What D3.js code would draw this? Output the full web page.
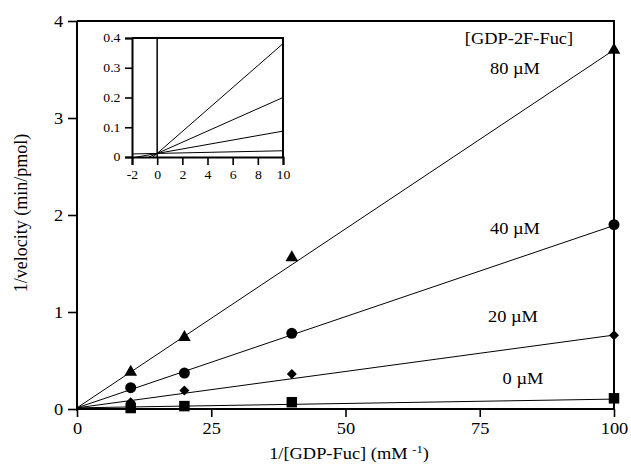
<!DOCTYPE html>
<html><head><meta charset="utf-8">
<script src="https://cdn.jsdelivr.net/npm/d3@7"></script>
<style>
body{margin:0;background:#fff}
text{font-family:"Liberation Serif","Times New Roman",serif;fill:#000}
</style></head>
<body><svg id="c" width="631" height="472"></svg>
<script>
// ---- data ----
const seriesLabels = ["80 µM","40 µM","20 µM","0 µM"];
const xValues = [10, 20, 40, 100];
const v80 = [0.38, 0.74, 1.56, 3.70];
const v40 = [0.22, 0.37, 0.78, 1.90];
const v20 = [0.07, 0.19, 0.36, 0.76];
const v0  = [0.01, 0.03, 0.07, 0.11];
const fitIntercepts = [0.012, 0.012, 0.012, 0.012];
const fitSlopes = [0.0369, 0.0188, 0.0075, 0.0009];
const markerTypes = ["triangle","circle","diamond","square"];
const xTicks = [0, 25, 50, 75, 100];
const yTicks = [0, 1, 2, 3, 4];
const insetXTicks = [-2, 0, 2, 4, 6, 8, 10];
const insetYTicks = [0, 0.1, 0.2, 0.3, 0.4];
const legendTitle = "[GDP-2F-Fuc]";
const xTitle = "1/[GDP-Fuc] (mM";
const yTitle = "1/velocity (min/pmol)";

const values = [v80, v40, v20, v0];
const SX = 1.15;

const svg = d3.select("#c");
const x = d3.scaleLinear([0, 100], [77, 614]);
const y = d3.scaleLinear([0, 4], [409, 21]);

function txt(g, px, py, s, size, anchor, sx) {
  return g.append("text").attr("transform", `translate(${px},${py}) scale(${sx||SX},1)`)
    .attr("font-size", size).attr("text-anchor", anchor || "middle").text(s);
}

// frame
svg.append("path").attr("d", `M${x(0)},${y(4)}H${x(100)}V${y(0)}`)
  .attr("fill","none").attr("stroke","#000").attr("stroke-width",2);

// axes
const gx = svg.append("g").attr("transform", `translate(0,${y(0)})`)
  .call(d3.axisBottom(x).tickValues(xTicks).tickSize(8).tickPadding(6).tickFormat(d => String(d)));
const gy = svg.append("g").attr("transform", `translate(${x(0)},0)`)
  .call(d3.axisLeft(y).tickValues(yTicks).tickSize(9).tickPadding(3).tickFormat(d => String(d)));
[gx, gy].forEach(g => {
  g.select(".domain").attr("stroke-width", 2).attr("d", g === gx ? `M${x(0)},0H${x(100)}` : `M0,${y(4)}V${y(0)+2}`);
  g.selectAll(".tick line").attr("stroke-width", 1.6);
  g.selectAll(".tick text").attr("font-size", 16).attr("font-family", '"Liberation Serif",serif')
    .attr("transform", `scale(${SX},1)`);
});

// fit lines
values.forEach((vals, i) => {
  svg.append("line")
    .attr("x1", x(0)).attr("y1", y(fitIntercepts[i]))
    .attr("x2", x(100)).attr("y2", y(fitIntercepts[i] + fitSlopes[i] * 100))
    .attr("stroke", "#000").attr("stroke-width", 1);
});

// markers
const symMap = {triangle: [d3.symbolTriangle, 70, 0], circle: [d3.symbolCircle, 95, 0], diamond: [d3.symbolSquare, 50, 45], square: [d3.symbolSquare, 110, 0]};
values.forEach((vals, i) => {
  const [t, s, r] = symMap[markerTypes[i]];
  svg.append("g").selectAll("path").data(vals).join("path")
    .attr("transform", (d, j) => `translate(${x(xValues[j])},${y(d)}) rotate(${r})`)
    .attr("d", d3.symbol(t, s)).attr("fill", "#000");
});

// series labels
const labelPos = [[515, 74], [515, 234], [513, 322], [523, 384]];
txt(svg, 519, 44, legendTitle, 16);
seriesLabels.forEach((l, i) => txt(svg, labelPos[i][0], labelPos[i][1], l, 16));

// titles
const xt = svg.append("text").attr("transform", `translate(349,459) scale(${SX},1)`)
  .attr("font-size", 16).attr("text-anchor", "middle");
xt.append("tspan").text(xTitle + " ");
xt.append("tspan").attr("font-size", 11).attr("dy", -6).text("-1");
xt.append("tspan").attr("dy", 6).text(")");
svg.append("text").attr("transform", "translate(27,213) rotate(-90)")
  .attr("font-size", 18).attr("text-anchor", "middle").text(yTitle);

// ---- inset ----
const xi = d3.scaleLinear([-2, 10], [132, 283]);
const yi = d3.scaleLinear([0, 0.4], [157, 38]);
const inset = svg.append("g");
svg.append("clipPath").attr("id", "ic").append("rect")
  .attr("x", xi(-2)).attr("y", yi(0.4)).attr("width", xi(10) - xi(-2)).attr("height", yi(0) - yi(0.4));
inset.append("g").attr("clip-path", "url(#ic)").selectAll("line").data(fitSlopes).join("line")
  .attr("x1", xi(-2)).attr("y1", (d, i) => yi(fitIntercepts[i] + d * -2))
  .attr("x2", xi(10)).attr("y2", (d, i) => yi(fitIntercepts[i] + d * 10))
  .attr("stroke", "#000").attr("stroke-width", 1);
inset.append("path").attr("d", `M${xi(-2)},${yi(0.4)}H${xi(10)}V${yi(0)}`)
  .attr("fill", "none").attr("stroke", "#000").attr("stroke-width", 2);
inset.append("line").attr("x1", xi(0)).attr("x2", xi(0)).attr("y1", yi(0.4)).attr("y2", yi(0))
  .attr("stroke", "#000").attr("stroke-width", 1.5);
const gxi = inset.append("g").attr("transform", `translate(0,${yi(0)})`)
  .call(d3.axisBottom(xi).tickValues(insetXTicks).tickSize(8).tickPadding(5).tickFormat(d => String(d)));
const gyi = inset.append("g").attr("transform", `translate(${xi(-2)},0)`)
  .call(d3.axisLeft(yi).tickValues(insetYTicks).tickSize(7).tickPadding(3).tickFormat(d => d === 0 ? "0" : d3.format(".1f")(d)));
[gxi, gyi].forEach(g => {
  g.select(".domain").attr("stroke-width", 2);
  g.selectAll(".tick line").attr("stroke-width", 1.6);
  g.selectAll(".tick text").attr("font-size", 12).attr("font-family", '"Liberation Serif",serif')
    .attr("transform", `scale(${SX},1)`);
});
</script></body></html>
